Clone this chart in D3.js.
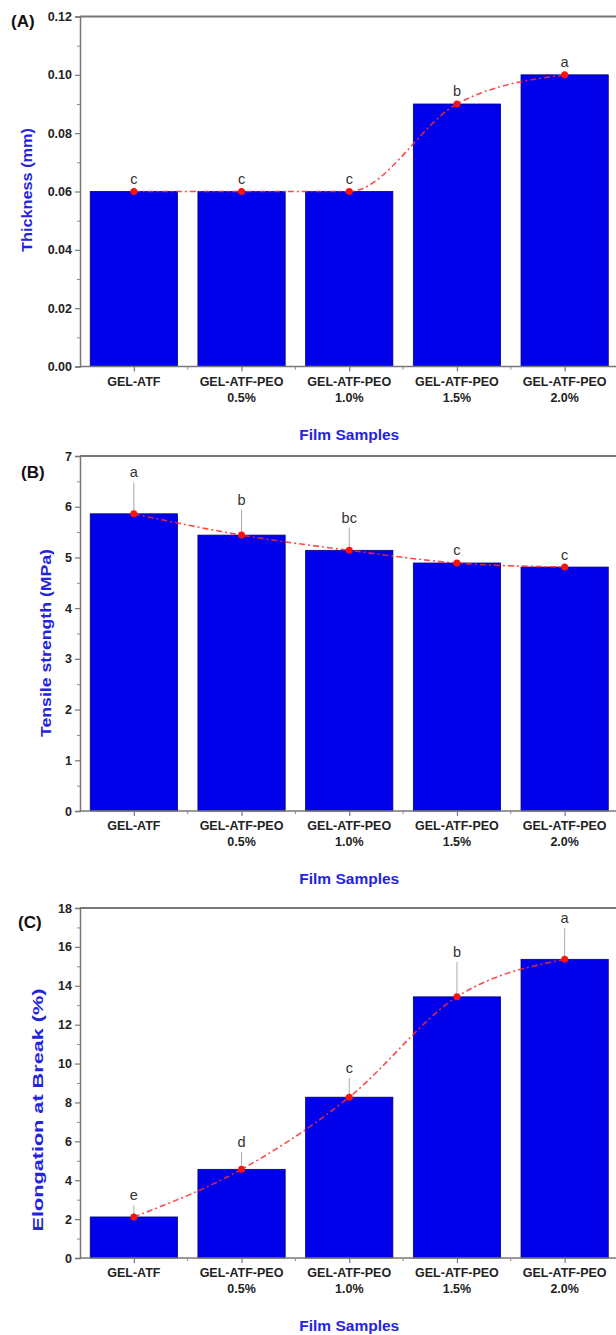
<!DOCTYPE html>
<html>
<head>
<meta charset="utf-8">
<script src="https://cdn.jsdelivr.net/npm/d3@7"></script>
<style>
  body { margin: 0; background: #fff; }
  text { font-family: "Liberation Sans", Arial, sans-serif; }
</style>
</head>
<body>
<div class="filmChart"></div>
<script>
var samples = ["GEL-ATF", "GEL-ATF-PEO 0.5%", "GEL-ATF-PEO 1.0%", "GEL-ATF-PEO 1.5%", "GEL-ATF-PEO 2.0%"];

var thickness = [0.06, 0.06, 0.06, 0.09, 0.10];
var thicknessErr = [0.001, 0.001, 0.001, 0.001, 0.001];
var thicknessLetters = ["c", "c", "c", "b", "a"];
var thicknessTicks = [0, 0.02, 0.04, 0.06, 0.08, 0.10, 0.12];

var tensile = [5.86, 5.44, 5.14, 4.89, 4.81];
var tensileErr = [0.62, 0.5, 0.45, 0.06, 0.05];
var tensileLetters = ["a", "b", "bc", "c", "c"];
var tensileTicks = [0, 1, 2, 3, 4, 5, 6, 7];

var elongation = [2.11, 4.56, 8.27, 13.43, 15.36];
var elongationErr = [0.6, 0.9, 1.0, 1.8, 1.6];
var elongationLetters = ["e", "d", "c", "b", "a"];
var elongationTicks = [0, 2, 4, 6, 8, 10, 12, 14, 16, 18];

var width = 616;
var height = 1335;
var left = 80;
var right = 618.5;

var panels = [
    { tag: "(A)", title: "Thickness (mm)", values: thickness, errs: thicknessErr, letters: thicknessLetters,
      ticks: thicknessTicks, fmt: d3.format(".2f"), top: 16.5, bottom: 366.5,
      titleX: 27, titleY: 190, titleLen: 124, tagY: 27, tagX: 11 },
    { tag: "(B)", title: "Tensile strength (MPa)", values: tensile, errs: tensileErr, letters: tensileLetters,
      ticks: tensileTicks, fmt: d3.format("d"), top: 456, bottom: 811,
      titleX: 46, titleY: 643, titleLen: 188, tagY: 478, tagX: 21 },
    { tag: "(C)", title: "Elongation at Break (%)", values: elongation, errs: elongationErr, letters: elongationLetters,
      ticks: elongationTicks, fmt: d3.format("d"), top: 908, bottom: 1258,
      titleX: 38, titleY: 1110, titleLen: 243, tagY: 928, tagX: 18 }
];

var canvas = d3.select(".filmChart")
    .append("svg")
    .attr("width", width)
    .attr("height", height);

var x = d3.scaleBand()
    .domain(samples)
    .range([left, right])
    .paddingInner(0.19)
    .paddingOuter(0.095);

panels.forEach(function(p) {
    var maxV = p.ticks[p.ticks.length - 1];
    var y = d3.scaleLinear()
        .domain([0, maxV])
        .range([p.bottom, p.top]);

    var g = canvas.append("g");
    var half = (p.ticks[1] - p.ticks[0]) / 2;
    var minor = d3.range(half, maxV, half * 2);

    // frame top line
    g.append("line")
        .attr("x1", left).attr("x2", right)
        .attr("y1", y(maxV)).attr("y2", y(maxV))
        .attr("stroke", "#777").attr("stroke-width", 2);

    // bars
    g.selectAll(".bar")
        .data(p.values)
        .enter().append("rect")
        .attr("x", function(d, i) { return x(samples[i]); })
        .attr("y", function(d) { return y(d); })
        .attr("width", x.bandwidth())
        .attr("height", function(d) { return y(0) - y(d); })
        .attr("fill", "#0000ea")
        .attr("stroke", "#00007a")
        .attr("stroke-width", 0.8);

    // error bars (upper only)
    g.selectAll(".err")
        .data(p.values)
        .enter().append("line")
        .attr("x1", function(d, i) { return x(samples[i]) + x.bandwidth() / 2; })
        .attr("x2", function(d, i) { return x(samples[i]) + x.bandwidth() / 2; })
        .attr("y1", function(d) { return y(d); })
        .attr("y2", function(d, i) { return y(d + p.errs[i]); })
        .attr("stroke", "#aaa")
        .attr("stroke-width", 1);

    // letters
    g.selectAll(".letter")
        .data(p.letters)
        .enter().append("text")
        .attr("x", function(d, i) { return x(samples[i]) + x.bandwidth() / 2; })
        .attr("y", function(d, i) { return y(p.values[i] + p.errs[i]) - 5; })
        .attr("text-anchor", "middle")
        .attr("font-size", 14.5)
        .attr("fill", "#333")
        .text(function(d) { return d; });

    // trend line
    var line = d3.line()
        .x(function(d, i) { return x(samples[i]) + x.bandwidth() / 2; })
        .y(function(d) { return y(d); })
        .curve(d3.curveMonotoneX);

    g.append("path")
        .datum(p.values)
        .attr("d", line)
        .attr("fill", "none")
        .attr("stroke", "#ff2a2a")
        .attr("stroke-width", 1.6)
        .attr("stroke-dasharray", "6,3,2,3")
        .attr("opacity", 0.85);

    g.selectAll(".pt")
        .data(p.values)
        .enter().append("circle")
        .attr("cx", function(d, i) { return x(samples[i]) + x.bandwidth() / 2; })
        .attr("cy", function(d) { return y(d); })
        .attr("r", 3.5)
        .attr("fill", "#ff1010");

    // y axis
    var yAxis = d3.axisLeft(y)
        .tickValues(p.ticks)
        .tickFormat(p.fmt)
        .tickSize(5)
        .tickPadding(3);

    var ya = g.append("g")
        .attr("transform", "translate(" + left + ",0)")
        .call(yAxis);
    ya.select(".domain").attr("stroke", "#777").attr("stroke-width", 1.5);
    ya.selectAll(".tick line").attr("stroke", "#777").attr("stroke-width", 1.2);
    ya.selectAll(".tick text")
        .attr("font-size", 12.5)
        .attr("font-weight", "bold")
        .attr("fill", "#222")
        .style("font-family", "'Liberation Sans', Arial, sans-serif");

    var yMinor = d3.axisLeft(y).tickValues(minor).tickSize(3).tickFormat("");
    var ym = g.append("g")
        .attr("transform", "translate(" + left + ",0)")
        .call(yMinor);
    ym.select(".domain").remove();
    ym.selectAll(".tick line").attr("stroke", "#888");

    // x axis
    var xPoint = d3.scalePoint().domain(samples).range([x(samples[0]) + x.bandwidth() / 2, x(samples[4]) + x.bandwidth() / 2]);
    var xAxis = d3.axisBottom(xPoint).tickSize(5).tickFormat("");
    var xa = g.append("g")
        .attr("transform", "translate(0," + y(0) + ")")
        .call(xAxis);
    xa.select(".domain").remove();
    xa.selectAll(".tick line").attr("stroke", "#777").attr("stroke-width", 1.2);

    g.append("line")
        .attr("x1", left).attr("x2", right)
        .attr("y1", y(0)).attr("y2", y(0))
        .attr("stroke", "#777").attr("stroke-width", 1.5);

    // minor x ticks between categories
    g.selectAll(".xminor")
        .data(samples.slice(1))
        .enter().append("line")
        .attr("x1", function(d) { return x(d) - x.step() * 0.095; })
        .attr("x2", function(d) { return x(d) - x.step() * 0.095; })
        .attr("y1", y(0))
        .attr("y2", y(0) + 3)
        .attr("stroke", "#888");

    // x labels
    var labels = g.selectAll(".xlabel")
        .data(samples)
        .enter().append("text")
        .attr("x", function(d) { return x(d) + x.bandwidth() / 2; })
        .attr("y", y(0) + 19)
        .attr("text-anchor", "middle")
        .attr("font-size", 12.5)
        .attr("font-weight", "bold")
        .attr("fill", "#222");

    labels.each(function(d) {
        var parts = d.split(" ");
        var t = d3.select(this);
        parts.forEach(function(s, k) {
            t.append("tspan")
                .attr("x", x(d) + x.bandwidth() / 2)
                .attr("dy", k === 0 ? 0 : 16)
                .text(s);
        });
    });

    // axis titles
    g.append("text")
        .attr("x", (left + right) / 2)
        .attr("y", y(0) + 73)
        .attr("text-anchor", "middle")
        .attr("font-size", 14.5)
        .attr("font-weight", "bold")
        .attr("fill", "#2323e0")
        .attr("textLength", 100)
        .attr("lengthAdjust", "spacingAndGlyphs")
        .text("Film Samples");

    g.append("text")
        .attr("transform", "translate(" + p.titleX + "," + p.titleY + ") rotate(-90)")
        .attr("text-anchor", "middle")
        .attr("dy", "0.35em")
        .attr("font-size", 14.5)
        .attr("font-weight", "bold")
        .attr("fill", "#2323e0")
        .attr("textLength", p.titleLen)
        .attr("lengthAdjust", "spacingAndGlyphs")
        .text(p.title);

    g.append("text")
        .attr("x", p.tagX)
        .attr("y", p.tagY)
        .attr("font-size", 17)
        .attr("font-weight", "bold")
        .attr("fill", "#111")
        .text(p.tag);
});
</script>
</body>
</html>
